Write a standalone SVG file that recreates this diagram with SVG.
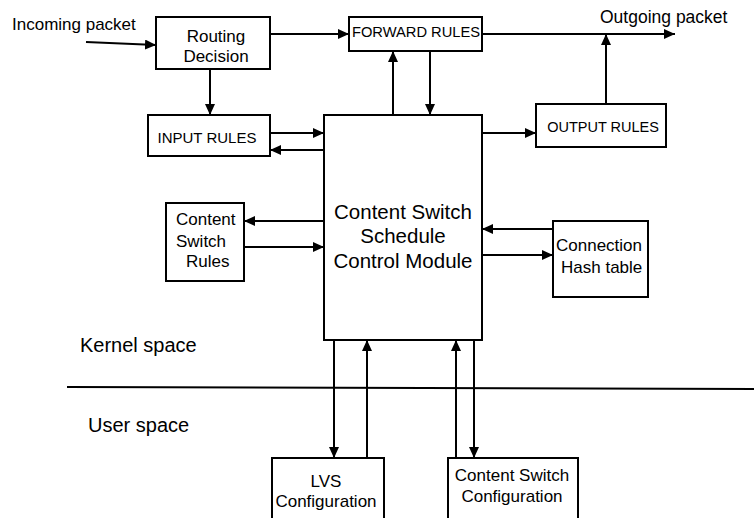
<svg xmlns="http://www.w3.org/2000/svg" width="754" height="518" viewBox="0 0 754 518">
<defs>
<marker id="ah" markerUnits="userSpaceOnUse" markerWidth="11" markerHeight="10" refX="11" refY="5" orient="auto" viewBox="0 0 11 10">
<path d="M0,0 L11,5 L0,10 z" fill="#000"/>
</marker>
</defs>
<style>
.box{fill:#fff;stroke:#000;stroke-width:2}
.ln{stroke:#000;stroke-width:2;fill:none}
.ar{stroke:#000;stroke-width:2;fill:none;marker-end:url(#ah)}
text{font-family:"Liberation Sans",Arial,sans-serif;fill:#000}
.c{text-anchor:middle}
</style>
<rect width="754" height="518" fill="#fff"/>
<g id="labels">
<text x="12" y="30" font-size="17">Incoming packet</text>
<text x="600" y="23" font-size="17.5">Outgoing packet</text>
<text x="80" y="352" font-size="20">Kernel space</text>
<text x="88" y="432" font-size="20">User space</text>
</g>
<g id="divider">
<line class="ln" x1="67" y1="387" x2="754" y2="389"/>
</g>
<g id="connectors">
<line class="ar" x1="86" y1="42" x2="156" y2="45"/>
<line class="ar" x1="270" y1="34" x2="349" y2="34"/>
<line class="ar" x1="210" y1="69" x2="210" y2="115"/>
<line class="ar" x1="482" y1="34" x2="675" y2="34"/>
<line class="ar" x1="393" y1="115" x2="393" y2="51"/>
<line class="ar" x1="430" y1="51" x2="430" y2="115"/>
<line class="ar" x1="606" y1="104" x2="606" y2="34"/>
<line class="ar" x1="482" y1="133" x2="536" y2="133"/>
<line class="ar" x1="270" y1="133" x2="324" y2="133"/>
<line class="ar" x1="324" y1="150" x2="270" y2="150"/>
<line class="ar" x1="324" y1="221" x2="244" y2="221"/>
<line class="ar" x1="244" y1="247" x2="324" y2="247"/>
<line class="ar" x1="553" y1="229" x2="482" y2="229"/>
<line class="ar" x1="482" y1="255" x2="553" y2="255"/>
<line class="ar" x1="334" y1="340" x2="334" y2="458"/>
<line class="ar" x1="367" y1="458" x2="367" y2="340"/>
<line class="ar" x1="456" y1="458" x2="456" y2="340"/>
<line class="ar" x1="474" y1="340" x2="474" y2="458"/>
</g>
<g id="routing">
<rect class="box" x="156" y="17" width="114" height="52"/>
<text class="c" x="216" y="42" font-size="17">Routing</text>
<text class="c" x="216" y="62" font-size="17">Decision</text>
</g>
<g id="forward">
<rect class="box" x="349" y="17" width="133" height="34"/>
<text class="c" x="416" y="37" font-size="14.7">FORWARD RULES</text>
</g>
<g id="input">
<rect class="box" x="148" y="115" width="122" height="41"/>
<text class="c" x="207" y="143" font-size="15">INPUT RULES</text>
</g>
<g id="output">
<rect class="box" x="536" y="104" width="130" height="43"/>
<text class="c" x="603" y="132" font-size="14.5">OUTPUT RULES</text>
</g>
<g id="main">
<rect class="box" x="324" y="115" width="158" height="225"/>
<text class="c" x="403" y="219" font-size="20.5">Content Switch</text>
<text class="c" x="403" y="243" font-size="20.5">Schedule</text>
<text class="c" x="403" y="268" font-size="20.5">Control Module</text>
</g>
<g id="csrules">
<rect class="box" x="166" y="203" width="78" height="78"/>
<text x="176" y="225" font-size="17">Content</text>
<text x="176" y="247" font-size="17">Switch</text>
<text x="186" y="267" font-size="17">Rules</text>
</g>
<g id="hash">
<rect class="box" x="553" y="221" width="95" height="76"/>
<text x="556" y="251" font-size="17">Connection</text>
<text x="561" y="273" font-size="17">Hash table</text>
</g>
<g id="lvs">
<rect class="box" x="272" y="458" width="112" height="70"/>
<text class="c" x="326" y="487" font-size="17">LVS</text>
<text class="c" x="326" y="507" font-size="17">Configuration</text>
</g>
<g id="csconfig">
<rect class="box" x="448" y="458" width="130" height="70"/>
<text class="c" x="512" y="481" font-size="17">Content Switch</text>
<text class="c" x="512" y="502" font-size="17">Configuration</text>
</g>
</svg>
